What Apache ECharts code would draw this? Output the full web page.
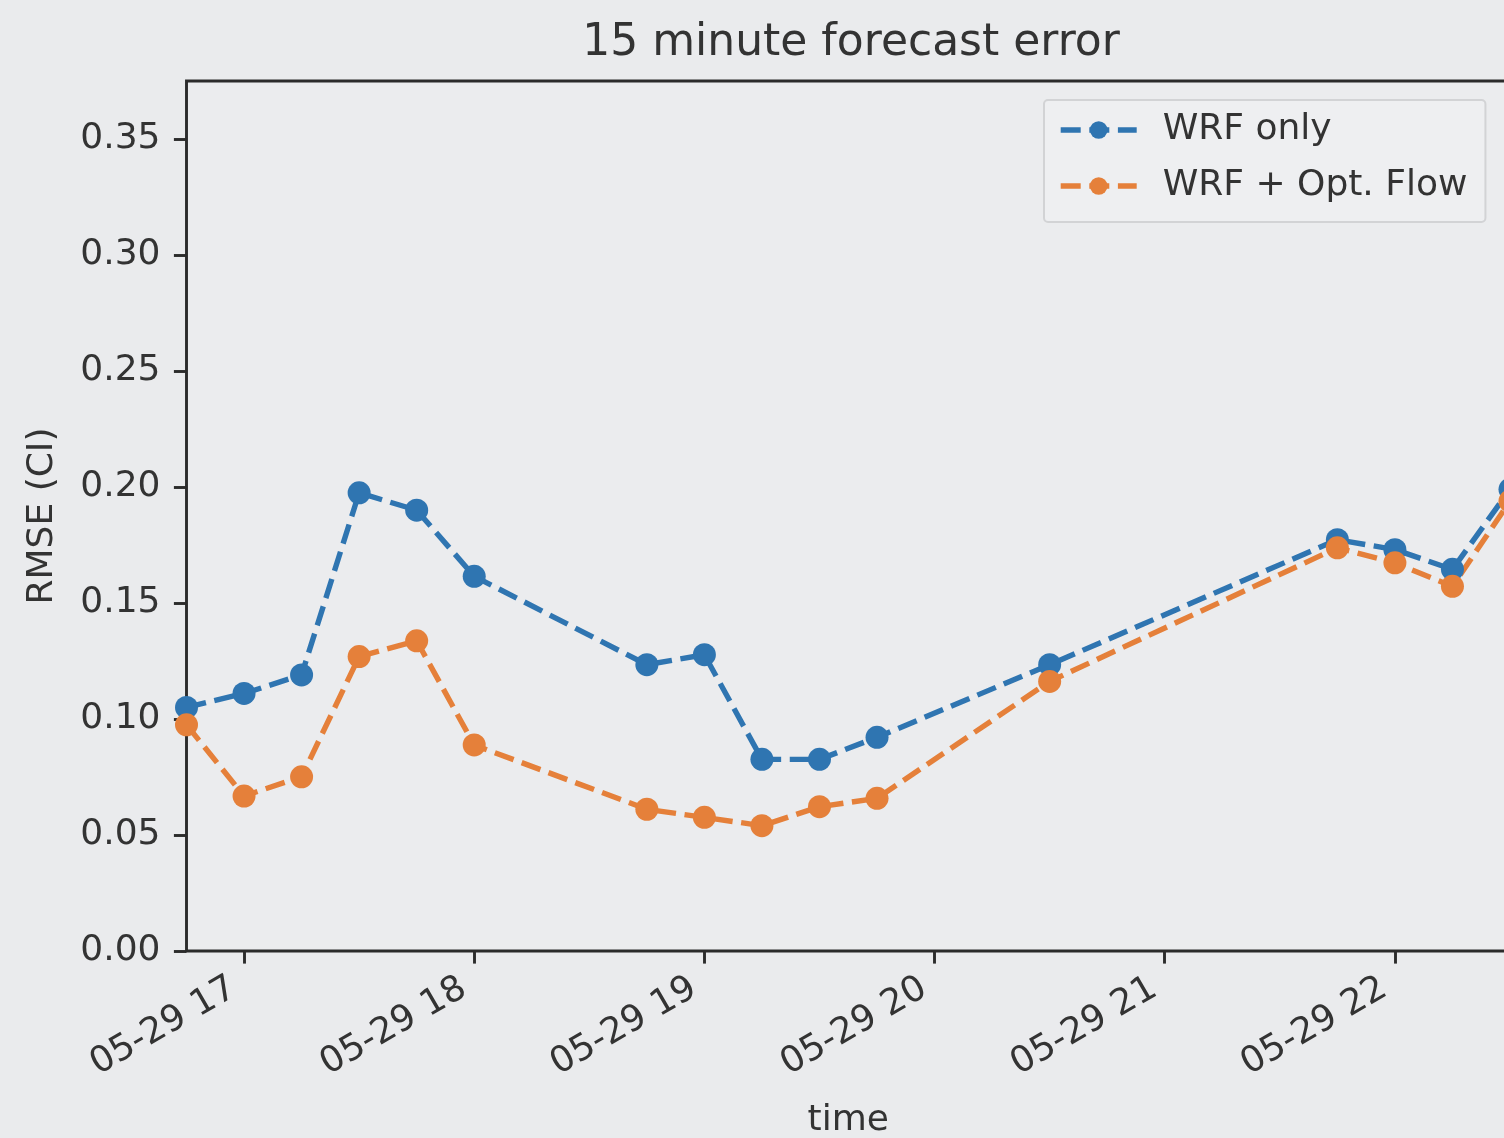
<!DOCTYPE html>
<html>
<head>
<meta charset="utf-8">
<title>15 minute forecast error</title>
<script src="https://cdn.jsdelivr.net/npm/echarts@6/dist/echarts.min.js"></script>
<style>
  html, body { margin: 0; padding: 0; background: #eaebed; }
  #chart { width: 1504px; height: 1138px; }
</style>
</head>
<body>
<div id="chart"></div>
<script>
// Forecast times (hh:mm on 05-29)
const times = ['16:45', '17:00', '17:15', '17:30', '17:45', '18:00', '18:45', '19:00',
               '19:15', '19:30', '19:45', '20:30', '21:45', '22:00', '22:15', '22:30'];

// RMSE (CI) of the 15 minute forecast
const wrfOnly = [0.105, 0.111, 0.119, 0.1975, 0.190, 0.1615, 0.1234, 0.1277,
                 0.0826, 0.0826, 0.0921, 0.1234, 0.1773, 0.1730, 0.1645, 0.199];
const wrfOptFlow = [0.0975, 0.0668, 0.0751, 0.1269, 0.1337, 0.0888, 0.0611, 0.0576,
                    0.0540, 0.0622, 0.0658, 0.1162, 0.1738, 0.1673, 0.1572, 0.1939];

// Axis ticks
const hourTicks = [17, 18, 19, 20, 21, 22];
const hourTickLabels = ['05-29 17', '05-29 18', '05-29 19', '05-29 20', '05-29 21', '05-29 22'];
const rmseTicks = [0, 0.05, 0.10, 0.15, 0.20, 0.25, 0.30, 0.35];

const toHours = t => { const [h, m] = t.split(':').map(Number); return h + m / 60; };
const pairs = vals => times.map((t, i) => [toHours(t), vals[i]]);

const FONT = 'DejaVu Sans';
const INK = '#333333';
const SPINE = '#2b2b2b';
const BLUE = '#2f75b1';
const ORANGE = '#e5803a';

const chart = echarts.init(document.getElementById('chart'), null, { renderer: 'canvas' });

const lineSeries = (name, vals, color) => ({
  name: name,
  type: 'line',
  data: pairs(vals),
  symbol: 'circle',
  symbolSize: 23,
  color: color,
  itemStyle: { color: color },
  lineStyle: { color: color, width: 5.4, type: [20, 8.6] },
  clip: true,
  animation: false
});

chart.setOption({
  backgroundColor: '#eaebed',
  animation: false,
  textStyle: { fontFamily: FONT },
  title: {
    text: '15 minute forecast error',
    left: 846,
    top: 17,
    textAlign: 'center',
    textStyle: { fontFamily: FONT, fontSize: 44, fontWeight: 'normal', color: INK }
  },
  legend: {
    left: 1044,
    top: 100,
    orient: 'vertical',
    itemWidth: 76,
    itemHeight: 22,
    itemGap: 16,
    padding: [10, 18, 16, 14],
    backgroundColor: '#eeeff1',
    borderColor: '#d2d3d5',
    borderWidth: 2,
    borderRadius: 4,
    lineStyle: { width: 5.4 },
    textStyle: { fontFamily: FONT, fontSize: 36, color: INK, lineHeight: 40, padding: [0, 0, 0, 21] },
    data: ['WRF only', 'WRF + Opt. Flow']
  },
  grid: {
    left: 186.5,
    top: 81,
    right: -6,
    bottom: 187,
    outerBoundsMode: 'none',
    show: true,
    backgroundColor: '#ebecee',
    borderColor: SPINE,
    borderWidth: 2.9
  },
  xAxis: {
    type: 'value',
    min: toHours('16:45'),
    max: toHours('22:30'),
    name: 'time',
    nameLocation: 'middle',
    nameGap: 152,
    nameTextStyle: { fontFamily: FONT, fontSize: 36, color: INK },
    axisLine: { show: false },
    splitLine: { show: false },
    axisTick: {
      show: true,
      length: 12.6,
      customValues: hourTicks,
      lineStyle: { color: SPINE, width: 2.9 }
    },
    axisLabel: {
      customValues: hourTicks,
      rotate: 30,
      margin: 29,
      padding: [0, 12, 0, 0],
      fontFamily: FONT,
      fontSize: 36,
      color: INK,
      formatter: v => hourTickLabels[hourTicks.indexOf(Math.round(v))]
    }
  },
  yAxis: {
    type: 'value',
    min: 0,
    max: 0.375,
    name: 'RMSE (CI)',
    nameLocation: 'middle',
    nameGap: 126,
    nameTextStyle: { fontFamily: FONT, fontSize: 36, color: INK },
    axisLine: { show: false },
    splitLine: { show: false },
    axisTick: {
      show: true,
      length: 12.6,
      customValues: rmseTicks,
      lineStyle: { color: SPINE, width: 2.9 }
    },
    axisLabel: {
      customValues: rmseTicks,
      margin: 26,
      fontFamily: FONT,
      fontSize: 36,
      color: INK,
      formatter: v => v.toFixed(2)
    }
  },
  series: [
    lineSeries('WRF only', wrfOnly, BLUE),
    lineSeries('WRF + Opt. Flow', wrfOptFlow, ORANGE)
  ]
});
</script>
</body>
</html>
